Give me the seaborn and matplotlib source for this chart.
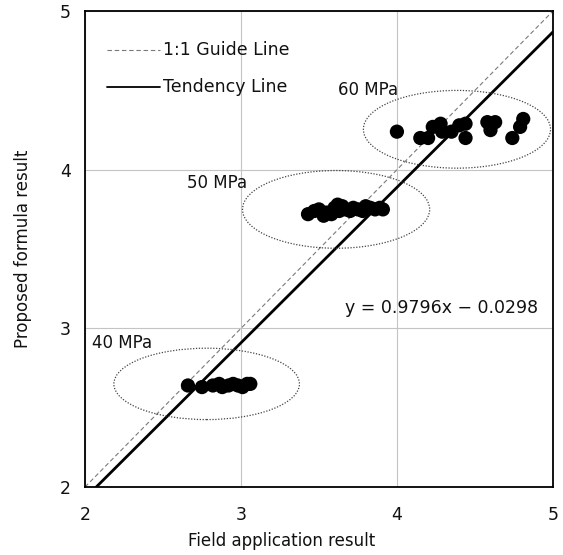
import numpy as np
import pandas as pd
import matplotlib
matplotlib.use("Agg")
import matplotlib.pyplot as plt
from matplotlib.patches import Ellipse
import seaborn as sns

# ---- data ----
x40 = [2.66, 2.75, 2.82, 2.86, 2.88, 2.92, 2.95, 2.98, 3.01, 3.04, 3.06]
y40 = [2.64, 2.63, 2.64, 2.65, 2.63, 2.64, 2.65, 2.64, 2.63, 2.65, 2.65]

x50 = [3.43, 3.47, 3.50, 3.53, 3.55, 3.58, 3.60, 3.62, 3.63, 3.65, 3.67,
       3.70, 3.72, 3.75, 3.78, 3.80, 3.83, 3.86, 3.89, 3.91]
y50 = [3.72, 3.74, 3.75, 3.71, 3.73, 3.72, 3.76, 3.78, 3.74, 3.77, 3.75,
       3.74, 3.76, 3.75, 3.74, 3.77, 3.76, 3.75, 3.76, 3.75]

x60 = [4.00, 4.15, 4.20, 4.23, 4.28, 4.29, 4.35, 4.40, 4.44, 4.44,
       4.58, 4.60, 4.63, 4.74, 4.79, 4.81]
y60 = [4.24, 4.20, 4.20, 4.27, 4.29, 4.24, 4.24, 4.28, 4.29, 4.20,
       4.30, 4.25, 4.30, 4.20, 4.27, 4.32]

groups = ["40 MPa", "50 MPa", "60 MPa"]
legend_labels = ["1:1 Guide Line", "Tendency Line"]
slope, intercept = 0.9796, -0.0298
ticks = [2, 3, 4, 5]

df = pd.DataFrame({
    "x": x40 + x50 + x60,
    "y": y40 + y50 + y60,
    "group": [groups[0]] * len(x40) + [groups[1]] * len(x50) + [groups[2]] * len(x60),
})

sns.set_theme(style="white")
plt.rcParams["font.family"] = ["DejaVu Sans"]
plt.rcParams["text.color"] = "#111111"
plt.rcParams["axes.labelcolor"] = "#111111"
plt.rcParams["xtick.color"] = "#111111"
plt.rcParams["ytick.color"] = "#111111"

fig = plt.figure(figsize=(5.63, 5.55), dpi=100)
ax = fig.add_axes([0.151, 0.1225, 0.831, 0.8575])

ax.set_xlim(2, 5)
ax.set_ylim(2, 5)
ax.set_xticks(ticks)
ax.set_yticks(ticks)
ax.grid(True, color="#c4c4c4", linewidth=0.8, linestyle="-")
ax.set_axisbelow(True)

guide_style = dict(color="#7a7a7a", linestyle=(0, (4, 2.5)), linewidth=0.8)

# guide and trend lines
gx = np.array([2, 5])
ax.plot(gx, gx, zorder=2, **guide_style)
tx = np.array([(2 - intercept) / slope, 5])
ax.plot(tx, slope * tx + intercept, color="black", linewidth=2.0, zorder=2)

sns.scatterplot(data=df, x="x", y="y", color="black", s=105, edgecolor="none",
                legend=False, ax=ax, zorder=3)

# ellipses around groups
ell = [(2.78, 2.65, 1.19, 0.45), (3.61, 3.75, 1.20, 0.49), (4.385, 4.255, 1.20, 0.49)]
for cx, cy, w, h in ell:
    ax.add_patch(Ellipse((cx, cy), w, h, fill=False, edgecolor="#444444",
                         linestyle=(0, (1, 1.3)), linewidth=0.9, zorder=2))

fs = 12
ax.text(2.045, 2.91, groups[0], fontsize=fs, va="center", ha="left")
ax.text(2.654, 3.915, groups[1], fontsize=fs, va="center", ha="left")
ax.text(3.62, 4.50, groups[2], fontsize=fs, va="center", ha="left")
ax.text(3.667, 3.128, "y = 0.9796x \u2212 0.0298", fontsize=12.5, va="center", ha="left")

# legend drawn in axes coordinates
tr = ax.transAxes
ax.plot([0.047, 0.160], [0.918, 0.918], transform=tr, **guide_style)
ax.text(0.166, 0.918, legend_labels[0], transform=tr, fontsize=12.5, va="center", ha="left")
ax.plot([0.047, 0.160], [0.840, 0.840], transform=tr, color="black", linewidth=1.3)
ax.text(0.166, 0.840, legend_labels[1], transform=tr, fontsize=12.5, va="center", ha="left")

for s in ax.spines.values():
    s.set_color("black")
    s.set_linewidth(1.3)

ax.tick_params(axis="x", length=0, pad=14, labelsize=12.5)
ax.tick_params(axis="y", length=0, pad=10, labelsize=12.5)
ax.set_xlabel("Field application result", fontsize=12)
ax.xaxis.set_label_coords(0.42, -0.095)
ax.set_ylabel("Proposed formula result", fontsize=12, labelpad=20)

fig.savefig("out.png", dpi=100)
